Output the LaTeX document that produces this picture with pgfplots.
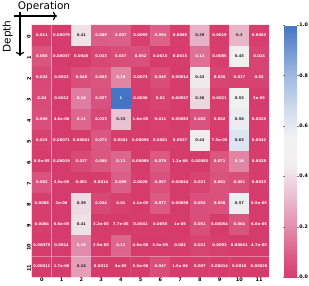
\documentclass[border=0pt]{standalone}
\usepackage{pgfplots}
\pgfplotsset{compat=1.18}
\usetikzlibrary{arrows.meta}
\usepackage{fontspec}
\setmainfont{DejaVu Sans}
\pgfplotsset{/pgf/number format/assume math mode=true}
\pgfplotsset{colormap={div}{
 rgb255(0)=(214,59,109);
 rgb255(0.1)=(220,98,139);
 rgb255(0.2)=(227,142,172);
 rgb255(0.3)=(233,182,201);
 rgb255(0.4)=(239,222,229);
 rgb255(0.45)=(242,239,240);
 rgb255(0.55)=(242,242,243);
 rgb255(0.65)=(214,223,240);
 rgb255(0.8)=(160,185,225);
 rgb255(1)=(68,117,196)}}
\pgfplotstableread{
x y c tc
0 0 0.011 0
1 0 0.00079 0
2 0 0.41 1
3 0 0.089 0
4 0 0.097 0
5 0 0.0093 0
6 0 0.094 0
7 0 0.0085 0
8 0 0.29 1
9 0 0.0019 0
10 0 0.3 1
11 0 0.0083 0
0 1 0.065 0
1 1 0.00037 0
2 1 0.0045 0
3 1 0.033 0
4 1 0.047 0
5 1 0.052 0
6 1 0.0015 0
7 1 0.0015 0
8 1 0.13 0
9 1 0.0085 0
10 1 0.45 1
11 1 0.024 0
0 2 0.032 0
1 2 0.0023 0
2 2 0.048 0
3 2 0.063 0
4 2 0.18 0
5 2 0.0073 0
6 2 0.045 0
7 2 0.00014 0
8 2 0.43 1
9 2 0.026 0
10 2 0.017 0
11 2 0.02 0
0 3 0.04 0
1 3 0.0012 0
2 3 0.16 0
3 3 0.057 0
4 3 1 0
5 3 0.0036 0
6 3 0.02 0
7 3 0.00057 0
8 3 0.38 1
9 3 0.0021 0
10 3 0.53 1
11 3 2e-05 0
0 4 0.049 0
1 4 4.6e-06 0
2 4 0.11 0
3 4 0.033 0
4 4 0.33 1
5 4 1.6e-05 0
6 4 0.011 0
7 4 0.00063 0
8 4 0.062 0
9 4 0.002 0
10 4 0.58 1
11 4 0.0025 0
0 5 0.015 0
1 5 0.00071 0
2 5 0.00061 0
3 5 0.073 0
4 5 0.0041 0
5 5 0.00056 0
6 5 0.0081 0
7 5 0.0037 0
8 5 0.44 1
9 5 7.3e-05 0
10 5 0.63 1
11 5 0.0042 0
0 6 8.5e-05 0
1 6 0.00019 0
2 6 0.037 0
3 6 0.068 0
4 6 0.11 0
5 6 0.00089 0
6 6 0.078 0
7 6 1.2e-06 0
8 6 0.00085 0
9 6 0.071 0
10 6 0.18 0
11 6 0.0029 0
0 7 0.062 0
1 7 2.5e-05 0
2 7 0.001 0
3 7 0.0014 0
4 7 0.089 0
5 7 0.0028 0
6 7 0.057 0
7 7 0.00044 0
8 7 0.021 0
9 7 0.061 0
10 7 0.051 0
11 7 0.0033 0
0 8 0.0088 0
1 8 2e-06 0
2 8 0.39 1
3 8 0.034 0
4 8 0.01 0
5 8 4.1e-05 0
6 8 0.077 0
7 8 0.00058 0
8 8 0.052 0
9 8 0.058 0
10 8 0.57 1
11 8 6.5e-05 0
0 9 0.0084 0
1 9 6.6e-05 0
2 9 0.41 1
3 9 3.2e-05 0
4 9 7.7e-05 0
5 9 0.0041 0
6 9 0.0055 0
7 9 1e-06 0
8 9 0.051 0
9 9 0.00054 0
10 9 0.064 0
11 9 6.6e-05 0
0 10 0.00079 0
1 10 0.0014 0
2 10 0.19 0
3 10 2.9e-05 0
4 10 0.11 0
5 10 4.6e-06 0
6 10 3.5e-05 0
7 10 0.002 0
8 10 0.021 0
9 10 0.0093 0
10 10 0.00041 0
11 10 4.7e-05 0
0 11 0.00011 0
1 11 1.7e-06 0
2 11 0.24 1
3 11 0.0012 0
4 11 5e-05 0
5 11 5.5e-06 0
6 11 0.047 0
7 11 1.5e-06 0
8 11 0.007 0
9 11 0.00014 0
10 11 0.0018 0
11 11 0.00026 0
}\datatable
\begin{document}
\begin{tikzpicture}[x=1pt,y=1pt]
\path[use as bounding box] (0,0) rectangle (309,285);
\draw[black, line width=1.1pt, ->] (14,269) -- (57,269);
\draw[black, line width=1.1pt, ->] (20,273) -- (20,229);
\node[anchor=base, inner sep=0pt, font=\fontsize{10.5}{12}\selectfont] at (44,275.7) {Operation};
\node[anchor=base, rotate=90, inner sep=0pt, font=\fontsize{10.5}{12}\selectfont] at (10.5,248.5) {Depth};
\begin{axis}[
  at={(32pt,8pt)}, anchor=south west,
  scale only axis, width=237pt, height=252pt,
  xmin=-0.5, xmax=11.5, ymin=-0.5, ymax=11.5,
  y dir=reverse,
  clip=false,
  colormap name=div,
  point meta min=0, point meta max=1,
  axis line style={draw=none},
  major tick length=0pt,
  xtick={0,...,11}, ytick={0,...,11},
  tick label style={font=\fontsize{5}{6}\selectfont\bfseries},
  xticklabel style={inner sep=1pt},
  yticklabel style={rotate=90, anchor=south, inner sep=1pt, xshift=-1.5pt},
  colorbar,
  colorbar style={
    at={(parent axis.north east)}, anchor=north west, xshift=7pt,
    width=12.7pt,
    ytick={0,0.2,0.4,0.6,0.8,1},
    axis line style={draw=none},
    major tick length=1.5pt, tick align=outside,
    yticklabel style={font=\fontsize{4.8}{6}\selectfont\bfseries, inner sep=0.5pt,
      /pgf/number format/.cd, fixed, fixed zerofill, precision=1},
  },
  lab/.style={only marks, mark=none, point meta=explicit symbolic,
    nodes near coords,
    every node near coord/.append style={anchor=center, inner sep=0pt,
      font=\fontsize{3.7}{4}\selectfont\bfseries}},
]
\addplot[matrix plot*, mesh/cols=12, point meta=explicit] table[x=x, y=y, meta=c] {\datatable};
\draw[white, opacity=0.35, line width=0.8pt] (axis cs:0.5,-0.5) -- (axis cs:0.5,11.5);
\draw[white, opacity=0.35, line width=0.8pt] (axis cs:-0.5,10.5) -- (axis cs:11.5,10.5);
\draw[white, opacity=0.35, line width=0.8pt] (axis cs:11.5,-0.5) -- (axis cs:11.5,11.5);
\addplot[lab, every node near coord/.append style={text=white},
  x filter/.expression={\thisrow{tc}<0.5 ? x : nan}]
  table[x=x, y=y, meta=c] {\datatable};
\addplot[lab, every node near coord/.append style={text=black!85},
  x filter/.expression={\thisrow{tc}>0.5 ? x : nan}]
  table[x=x, y=y, meta=c] {\datatable};
\end{axis}
\end{tikzpicture}
\end{document}
